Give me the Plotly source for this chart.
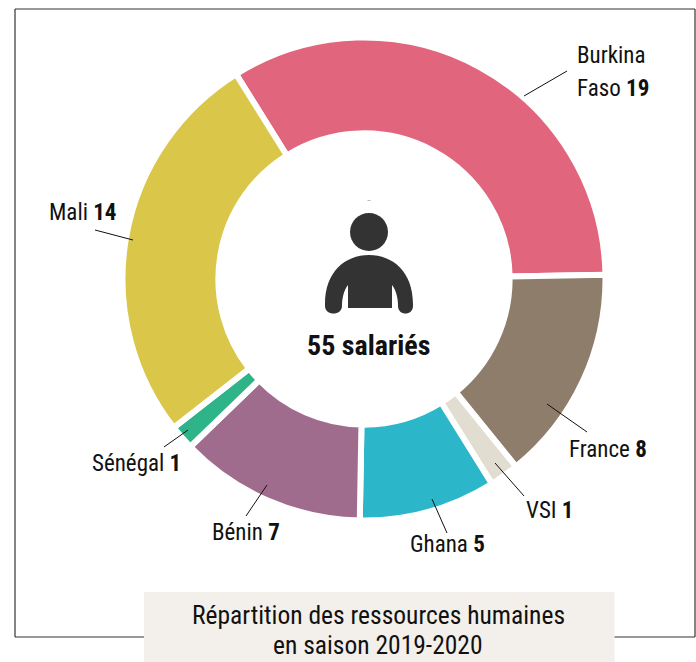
import plotly.graph_objects as go

W, H = 696, 662
countries = ["Burkina Faso", "France", "VSI", "Ghana", "Bénin", "Sénégal", "Mali"]
counts = [19, 8, 1, 5, 7, 1, 14]
# Slice sweep as drawn in the picture (degrees), which departs a little from the counts
drawn_shares = [121, 52, 7, 33, 45, 6, 96]
colors = ["#E1667D", "#8F7D6C", "#E2DDD1", "#2BB6CA", "#A06C8E", "#2FB388", "#DAC648"]
start_angle = -32
leaders = [((524, 96), (567, 71)), ((547, 404), (587, 432)), ((495, 463), (524, 496)),
           ((432, 499), (447, 533)), ((267, 485), (246, 516)), ((188, 430), (164, 447)), ((133, 240), (95, 230))]
labels = [
    (575, 56, "Burkina"), (575, 88, "Faso <b>19</b>"), (567, 449, "France <b>8</b>"),
    (524, 511, "VSI <b>1</b>"), (408, 544, "Ghana <b>5</b>"), (210, 532, "Bénin <b>7</b>"),
    (90, 463, "Sénégal <b>1</b>"), (47, 212, "Mali <b>14</b>"),
]
FONT = "Roboto Condensed, Roboto"

def px(x): return x / W
def py(y): return 1 - y / H

CX, CY, R = 364, 279, 241.5
fig = go.Figure(go.Pie(
    values=drawn_shares, labels=countries, customdata=counts, sort=False, direction="clockwise",
    rotation=start_angle, hole=0.603, textinfo="none", hovertemplate="%{label}: %{customdata}<extra></extra>",
    marker=dict(colors=colors, line=dict(color="white", width=6)),
    domain=dict(x=[px(CX - R), px(CX + R)], y=[py(CY + R), py(CY - R)]), showlegend=False,
))

def pline(x0, y0, x1, y1, color="#333", width=1.2):
    return dict(type="line", xref="paper", yref="paper", x0=px(x0), x1=px(x1), y0=py(y0), y1=py(y1), line=dict(color=color, width=width))

shapes = [
    pline(15, 9, 15, 637), pline(15, 637, 695, 637), pline(695, 9, 695, 637), pline(15, 9, 695, 9),
    dict(type="rect", xref="paper", yref="paper", x0=px(144), x1=px(614.5), y0=py(592), y1=py(662), fillcolor="#F3F0EB", line=dict(width=0)),
    dict(type="circle", xref="paper", yref="paper", x0=px(350), x1=px(388), y0=py(213), y1=py(251), fillcolor="#333333", line=dict(width=0)),
    pline(367.5, 200.5, 370.5, 200.5, color="#bbbbbb", width=1),
]
for (a, b) in leaders:
    shapes.append(pline(a[0], a[1], b[0], b[1], color="#111", width=1))

# Body of the person icon, drawn in page pixels through a paper-referenced path
pts = "M 325 304 C 325 272 345 255 369 255 C 393 255 413 272 413 304 L 413 306 C 413 316 398 316 398 306 C 398 298 396 290 392 285 L 392 308 L 348 308 L 348 285 C 344 290 342 298 342 306 C 342 316 325 316 325 306 Z"
toks = pts.split()
out, i = [], 0
while i < len(toks):
    t = toks[i]
    if t.isalpha():
        out.append(t); i += 1
    else:
        out.append(f"{px(float(t)):.5f},{py(float(toks[i+1])):.5f}"); i += 2
shapes.append(dict(type="path", xref="paper", yref="paper", path=" ".join(out), fillcolor="#333333", line=dict(width=0)))

annotations = [dict(x=px(x), y=py(y), xref="paper", yref="paper", text=t, showarrow=False, xanchor="left", yanchor="middle",
                    font=dict(family=FONT, size=23, color="#111")) for x, y, t in labels]
annotations += [
    dict(x=px(368), y=py(345), xref="paper", yref="paper", text="<b>55 salariés</b>", showarrow=False, yanchor="middle",
         font=dict(family=FONT, size=28, color="#111")),
    dict(x=px(378), y=py(615), xref="paper", yref="paper", text="Répartition des ressources humaines", showarrow=False, yanchor="middle",
         font=dict(family=FONT, size=25.5, color="#111")),
    dict(x=px(378), y=py(645), xref="paper", yref="paper", text="en saison 2019-2020", showarrow=False, yanchor="middle",
         font=dict(family=FONT, size=25.5, color="#111")),
]
fig.update_layout(width=W, height=H, margin=dict(l=0, r=0, t=0, b=0), paper_bgcolor="white",
                  shapes=shapes, annotations=annotations)
fig.write_html("out.html", config=dict(displayModeBar=False),
               post_script="document.body.style.margin='0';document.documentElement.style.overflow='hidden';")
